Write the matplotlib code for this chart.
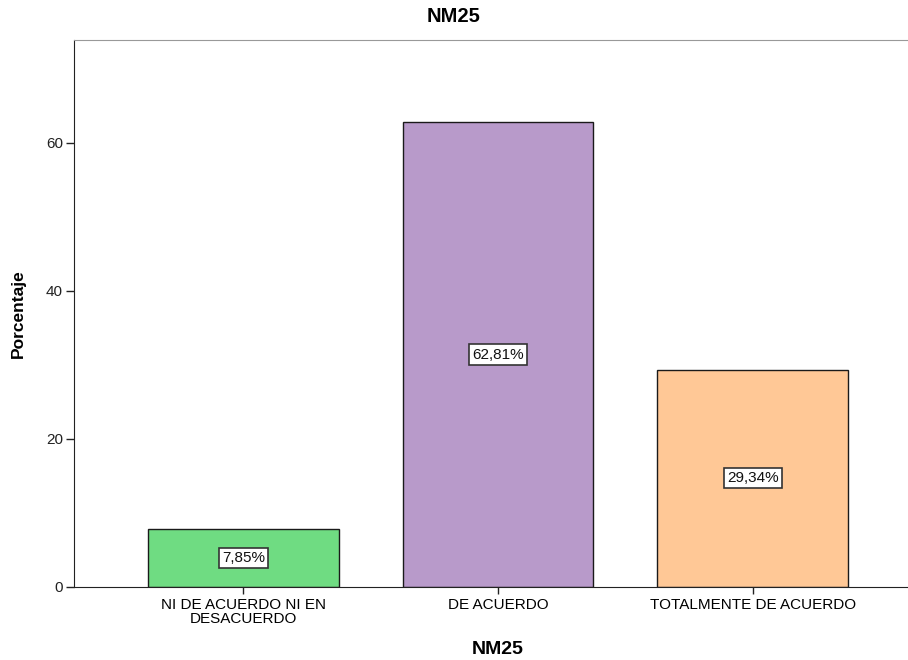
import matplotlib
matplotlib.use("Agg")
import matplotlib.pyplot as plt

categories = ["NI DE ACUERDO NI EN\nDESACUERDO", "DE ACUERDO", "TOTALMENTE DE ACUERDO"]
values = [7.85, 62.81, 29.34]
labels = ["7,85%", "62,81%", "29,34%"]
colors = ["#6fdc82", "#b89aca", "#ffc896"]
yticks = [0, 20, 40, 60]

plt.rcParams['font.family'] = ['Liberation Sans', 'DejaVu Sans']

fig = plt.figure(figsize=(9.08, 6.6), dpi=100)
ax = fig.add_axes([74/908, 1-587/660, (922-74)/908, (587-40)/660])

x = list(range(len(values)))
ax.bar(x, values, width=0.75, color=colors, edgecolor="#1a1a1a", linewidth=1.0, zorder=2)
for xi, v, lab in zip(x, values, labels):
    ax.text(xi, v/2, lab, ha="center", va="center", fontsize=11, color="#111111",
            bbox=dict(boxstyle="square,pad=0.2", facecolor="white", edgecolor="#333333", linewidth=1.2),
            zorder=3)

ax.set_xlim(-0.665, 2.665)
ax.set_ylim(0, 73.9)
ax.set_xticks(x)
ax.set_xticklabels(categories, fontsize=11, linespacing=0.95)
ax.set_yticks(yticks)
ax.set_yticklabels([str(t) for t in yticks], fontsize=11, color="#222222")
ax.tick_params(axis="y", length=6, width=1, color="#222222", pad=2)
ax.tick_params(axis="x", length=5, width=1, color="#222222", pad=3)

ax.spines["right"].set_visible(False)
ax.spines["top"].set_color("#999999")
ax.spines["left"].set_color("#222222")
ax.spines["bottom"].set_color("#222222")

ax.set_ylabel("Porcentaje", fontsize=12.5, fontweight="bold")
ax.yaxis.set_label_coords((18 - 74) / (922 - 74), 0.5)
ax.set_xlabel("NM25", fontsize=14, fontweight="bold")
ax.xaxis.set_label_coords(0.5, -(650 - 587) / (587 - 40))
ax.xaxis.label.set_va("center")
ax.yaxis.label.set_va("center")
fig.text(0.5, 1-17/660, "NM25", ha="center", va="center", fontsize=14.5, fontweight="bold")

fig.savefig("out.png", dpi=100)
